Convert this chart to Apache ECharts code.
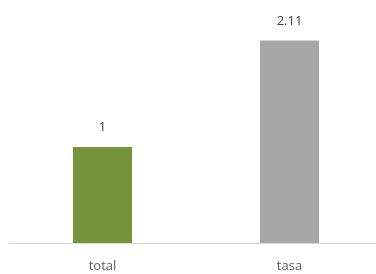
<!DOCTYPE html>
<html>
<head>
<meta charset="utf-8">
<script src="https://cdn.jsdelivr.net/npm/echarts@6/dist/echarts.min.js"></script>
<style>
  html, body { margin: 0; padding: 0; background: #fff; }
  #chart { width: 376px; height: 274px; }
</style>
</head>
<body>
<div id="chart"></div>
<script>
var categories = ['total', 'tasa'];
var values = [1, 2.11];
var barColors = ['#77933c', '#a6a6a6'];

var chart = echarts.init(document.getElementById('chart'), null, {renderer: 'canvas'});

var option = {
  animation: false,
  grid: {
    left: 9,
    right: -7,
    top: 3,
    bottom: 31,
    containLabel: false,
    outerBoundsMode: 'none'
  },
  xAxis: {
    type: 'category',
    data: categories,
    axisLine: {
      show: true,
      lineStyle: {color: '#d9d9d9', width: 1}
    },
    axisTick: {show: false},
    axisLabel: {
      color: '#595959',
      fontFamily: 'Open Sans',
      fontSize: 13,
      margin: 17
    }
  },
  yAxis: {
    type: 'value',
    min: 0,
    max: 2.5,
    show: false,
    splitLine: {show: false}
  },
  series: [{
    type: 'bar',
    barWidth: 59,
    data: values.map(function (v, k) {
      return {value: v, itemStyle: {color: barColors[k]}};
    }),
    label: {
      show: true,
      position: 'top',
      distance: 13,
      color: '#404040',
      fontFamily: 'Open Sans',
      fontSize: 13
    }
  }]
};

chart.setOption(option);
</script>
</body>
</html>
